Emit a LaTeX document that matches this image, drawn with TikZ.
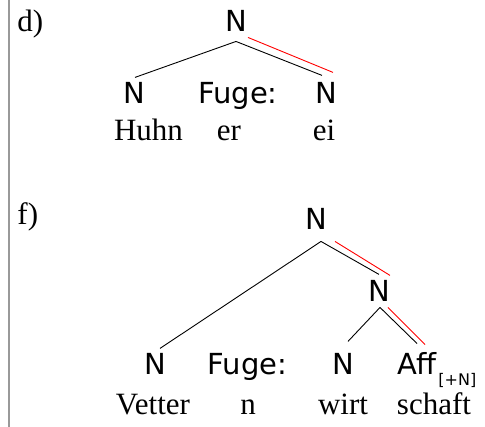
\documentclass[tikz,border=0pt]{standalone}
\usepackage{fontspec}
\setmainfont{Liberation Serif}
\newfontfamily\catfont{DejaVu Sans}
\usepackage{tikz}

\begin{document}
\begin{tikzpicture}[x=1pt,y=-1pt,line width=0.9pt,
    cat/.style={font=\catfont\fontsize{29}{30}\selectfont,inner sep=0pt,anchor=base},
    word/.style={font=\fontsize{31}{34}\selectfont,inner sep=0pt,anchor=base},
    headline/.style={draw=red}]
    \useasboundingbox (0,0) rectangle (485,427);
    \draw[gray!80,line width=2pt] (8.5,0) -- (8.5,427);

    % d)
    \node[word,anchor=base west] (dlab) at (17,32) {d)};
    \node[cat] (dN) at (236,32) {N};
    \node[cat] (dL) at (134,104) {N};
    \node[cat] (dF) at (238,104) {Fuge:};
    \node[cat] (dR) at (326,104) {N};
    \node[word] (huhn) at (148.5,141) {Huhn};
    \node[word] (er) at (229,141) {er};
    \node[word] (ei) at (324,141) {ei};
    \path[-]
    ([yshift=-9pt]dN.south) edge ([shift={(1pt,5pt)}]dL.north)
    ([yshift=-9pt]dN.south) edge ([shift={(-4pt,7pt)}]dR.north)
    ([shift={(12pt,-5pt)}]dN.south) edge[headline] ([shift={(7pt,10pt)}]dR.north);

    % f)
    \node[word,anchor=base west] (flab) at (17,225) {f)};
    \node[cat] (fN) at (316,230) {N};
    \node[cat] (fM) at (379,302) {N};
    \node[cat] (fL) at (155,375) {N};
    \node[cat] (fF) at (247.5,375) {Fuge:};
    \node[cat] (fW) at (343,375) {N};
    \node[cat] (fA) at (417,375) {Aff\rlap{\raisebox{-10.5pt}{\fontsize{16}{16}\selectfont\kern1.5pt[+N]}}};
    \node[word] (vetter) at (153,415) {Vetter};
    \node[word] (n) at (248,415) {n};
    \node[word] (wirt) at (343,415) {wirt};
    \node[word] (schaft) at (434,415) {schaft};
    \path[-]
    ([shift={(5pt,-11pt)}]fN.south) edge ([shift={(5pt,5pt)}]fL.north)
    ([shift={(5pt,-11pt)}]fN.south) edge ([yshift=6pt]fM.north)
    ([shift={(19pt,-11pt)}]fN.south) edge[headline] ([shift={(11pt,5pt)}]fM.north)
    ([shift={(1pt,-5pt)}]fM.south) edge ([shift={(5pt,12pt)}]fW.north)
    ([shift={(1pt,-5pt)}]fM.south) edge ([yshift=9pt]fA.north)
    ([shift={(9pt,-5pt)}]fM.south) edge[headline] ([shift={(8pt,8pt)}]fA.north);
\end{tikzpicture}
\end{document}
